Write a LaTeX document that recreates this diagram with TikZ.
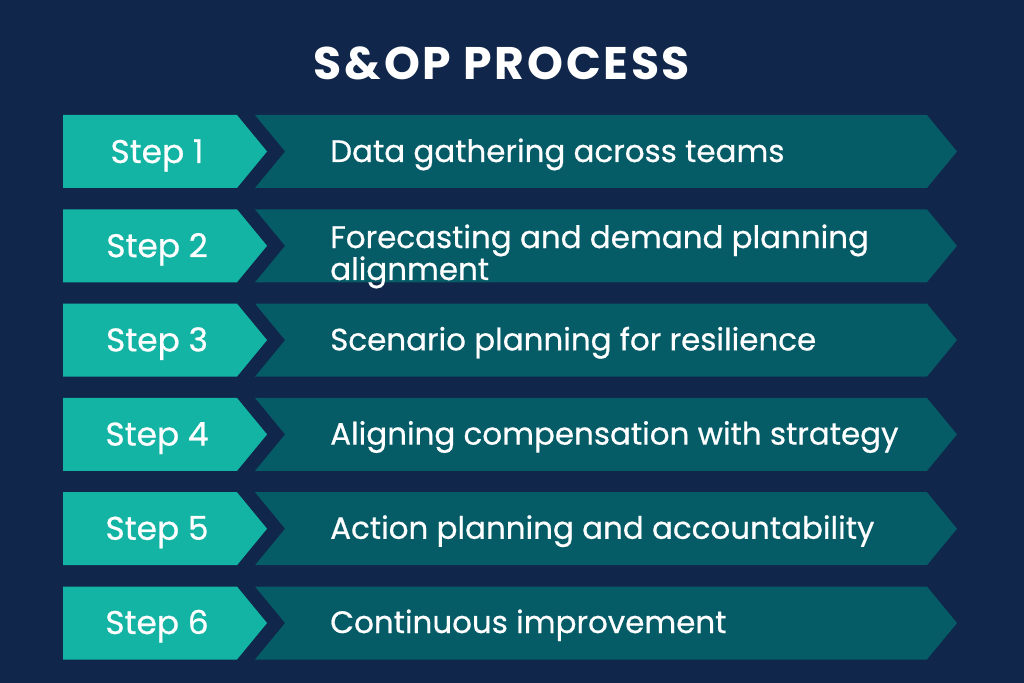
\documentclass[tikz,border=0pt]{standalone}
\usepackage{fontspec}
\setmainfont{Poppins}
\newfontfamily\medfont{Poppins}[FakeBold=0.6]
\usetikzlibrary{positioning, shapes.symbols}
\definecolor{navy}{HTML}{10264A}
\definecolor{stepteal}{HTML}{14B4A4}
\definecolor{taskteal}{HTML}{055B66}

\begin{document}
\begin{tikzpicture}[x=0.03cm, y=-0.03cm,
  stepbox/.style={signal, signal to=east, fill=stepteal, minimum width=6.12cm, minimum height=2.19cm, signal pointer angle=101, inner sep=0pt},
  taskbox/.style={signal, signal from=west, signal to=east, fill=taskteal, minimum width=21.06cm, minimum height=2.19cm, signal pointer angle=101, inner sep=0pt},
  steptext/.style={anchor=base, text=white, font=\medfont\fontsize{28}{32}\selectfont},
  tasktext/.style={anchor=base west, text=white, align=left, inner sep=0pt, font=\medfont\fontsize{26.4}{27.3}\selectfont}]
\useasboundingbox (0,0) rectangle (1024,683);
\fill[navy] (0,0) rectangle (1024,683);

\node[text=white, font=\bfseries\fontsize{39}{43}\selectfont\addfontfeature{LetterSpace=6}] (title) at (502,63) {S\&OP PROCESS};

% step column
\node[stepbox] (s1) at (150,151.5) {};
\node[stepbox, below=6.25mm of s1] (s2) {};
\node[stepbox, below=6.25mm of s2] (s3) {};
\node[stepbox, below=6.25mm of s3] (s4) {};
\node[stepbox, below=6.25mm of s4] (s5) {};
\node[stepbox, below=6.25mm of s5] (s6) {};

% task column
\node[taskbox] (t1) at (606,151.5) {};
\node[taskbox, below=6.25mm of t1] (t2) {};
\node[taskbox, below=6.25mm of t2] (t3) {};
\node[taskbox, below=6.25mm of t3] (t4) {};
\node[taskbox, below=6.25mm of t4] (t5) {};
\node[taskbox, below=6.25mm of t5] (t6) {};

\node[steptext] (n1) at (157,163) {Step 1};
\node[steptext] (n2) at (157,257.2) {Step 2};
\node[steptext] (n3) at (157,351.4) {Step 3};
\node[steptext] (n4) at (157,445.6) {Step 4};
\node[steptext] (n5) at (157,539.8) {Step 5};
\node[steptext] (n6) at (157,634) {Step 6};

\node[tasktext] (x1) at (330,162) {Data gathering across teams};
\node[tasktext] (x2) at (330,280) {Forecasting and demand planning\\alignment};
\node[tasktext] (x3) at (330,350.4) {Scenario planning for resilience};
\node[tasktext] (x4) at (330,444.6) {Aligning compensation with strategy};
\node[tasktext] (x5) at (330,538.8) {Action planning and accountability};
\node[tasktext] (x6) at (330,633) {Continuous improvement};

\end{tikzpicture}
\end{document}
